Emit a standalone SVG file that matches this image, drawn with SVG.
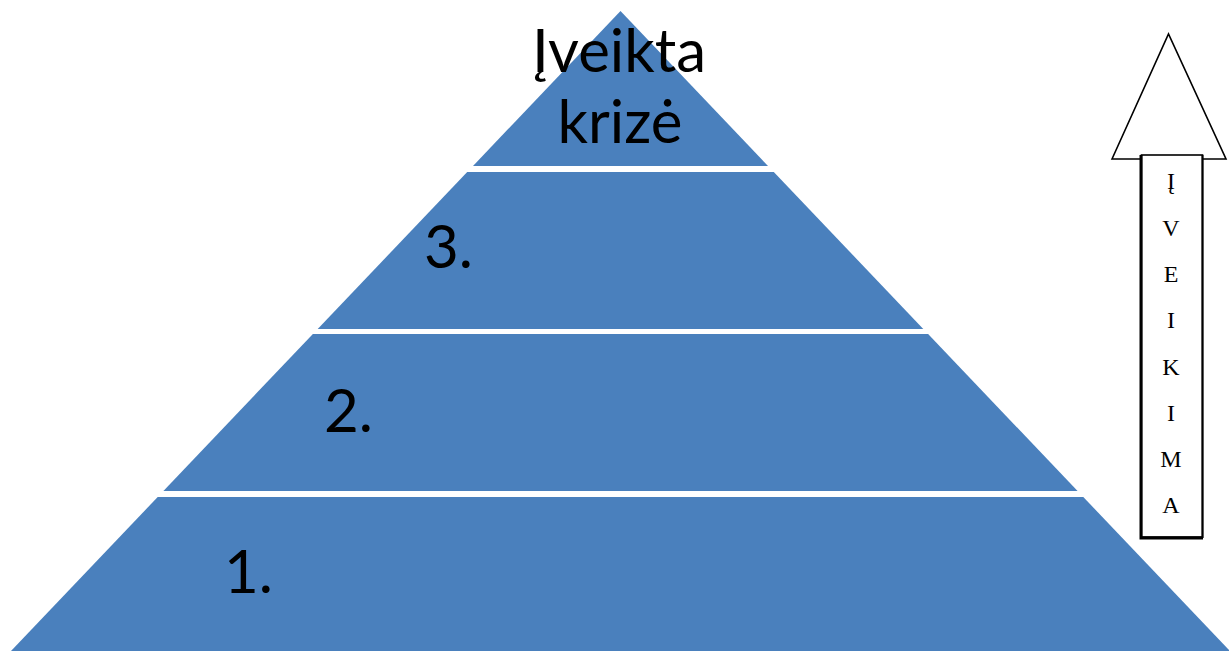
<svg xmlns="http://www.w3.org/2000/svg" width="1229" height="651" viewBox="0 0 1229 651">
  <style>
    .tier { fill: #4a80bd; }
    .lbl { font-family: Lato, "Open Sans", sans-serif; font-size: 60px; fill: #000; }
    .arrow { fill: #fff; stroke: #000; stroke-width: 1.6; stroke-linejoin: miter; }
    .vl { font-family: "Liberation Serif", "Times New Roman", serif; font-size: 24px; fill: #000; text-anchor: middle; }
  </style>
  <rect x="0" y="0" width="1229" height="651" fill="#fff"/>
  <g id="tier4">
    <polygon class="tier" points="620.5,11 768,166 473,166"/>
    <text class="lbl" x="619" y="72" text-anchor="middle">Įveikta</text>
    <text class="lbl" x="620" y="143" text-anchor="middle">krizė</text>
  </g>
  <g id="tier3">
    <polygon class="tier" points="467.2,172 773.8,172 923.3,329 317.7,329"/>
    <text class="lbl" x="424" y="268">3.</text>
  </g>
  <g id="tier2">
    <polygon class="tier" points="312.9,334 928.1,334 1077.6,491 163.4,491"/>
    <text class="lbl" x="324" y="432">2.</text>
  </g>
  <g id="tier1">
    <polygon class="tier" points="157.7,497 1083.3,497 1230,651 11,651"/>
    <text class="lbl" x="224" y="593">1.</text>
  </g>
  <g id="arrow">
    <polygon class="arrow" points="1112,159 1168.5,34 1226,159"/>
    <rect class="arrow" x="1141.5" y="155" width="61" height="382"/>
    <polyline points="1141,155 1141,538 1203,538" fill="none" stroke="#000" stroke-width="3"/>
    <line x1="1202.5" y1="155" x2="1202.5" y2="538" stroke="#000" stroke-width="2"/>
    <text class="vl" x="1171" y="189">Į</text>
    <text class="vl" x="1171" y="235.5">V</text>
    <text class="vl" x="1171" y="282">E</text>
    <text class="vl" x="1171" y="328">I</text>
    <text class="vl" x="1171" y="374.5">K</text>
    <text class="vl" x="1171" y="421">I</text>
    <text class="vl" x="1171" y="467">M</text>
    <text class="vl" x="1171" y="513">A</text>
  </g>
  <g id="connectors"></g>
</svg>
